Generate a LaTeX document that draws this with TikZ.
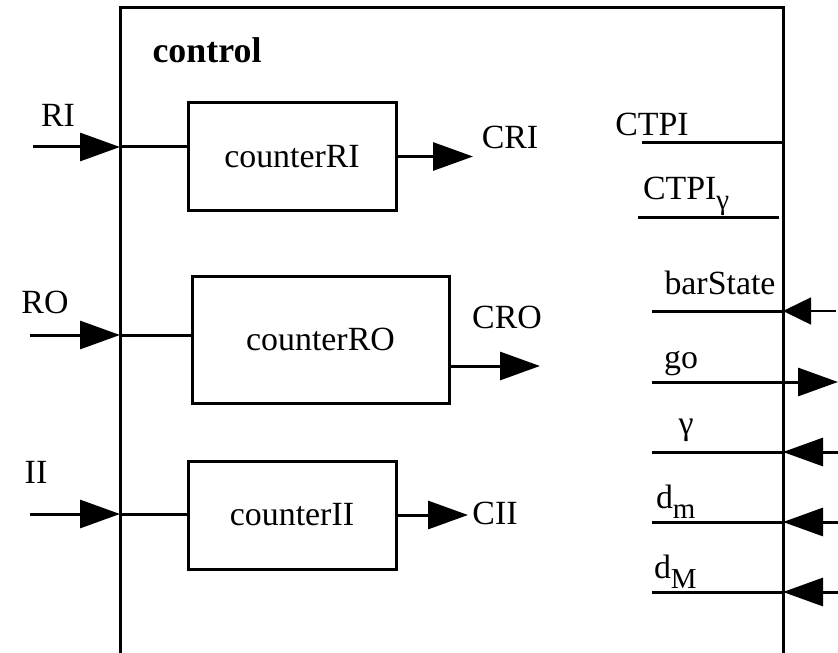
\documentclass[tikz,border=0pt]{standalone}
\usepackage{fontspec}
\setmainfont{Liberation Serif}
\usetikzlibrary{arrows.meta}
\newcommand\lowsub[1]{\raisebox{-0.32em}{\fontsize{29}{31}\selectfont #1}}
\begin{document}
\begin{tikzpicture}[x=1bp,y=-1bp,line width=3bp,
  every node/.style={font=\fontsize{34}{37}\selectfont, inner sep=0pt, outer sep=0pt},
  blk/.style={draw, line width=3bp, inner sep=0pt},
  tip/.style={-{Triangle[length=40bp,width=28bp]}},
  smalltip/.style={-{Triangle[length=28bp,width=27bp]}}]
\useasboundingbox (0,0) rectangle (838,653);
% frame
\coordinate (fTL) at (120,8);
\coordinate (fTR) at (783,8);
\coordinate (fBL) at (120,655);
\coordinate (fBR) at (783,655);
\draw (fBL) -- (fTL) -- (fTR) -- (fBR);
\node[font=\fontsize{36}{38}\selectfont\bfseries] (ctl) at (207,50) {control};
% blocks
\node[blk, minimum width=208bp, minimum height=107bp] (cRI) at (292,156.5) {counterRI};
\node[blk, minimum width=257bp, minimum height=127bp] (cRO) at (320.5,339.5) {counterRO};
\node[blk, minimum width=208bp, minimum height=108bp] (cII) at (292,515) {counterII};
% left inputs
\coordinate (iRI) at (33,147);  \coordinate (jRI) at (120,147);
\coordinate (iRO) at (30,335);  \coordinate (jRO) at (120,335);
\coordinate (iII) at (30,514);  \coordinate (jII) at (120,514);
\draw[tip] (iRI) -- (jRI);
\draw (jRI) -- (jRI -| cRI.west);
\draw[tip] (iRO) -- (jRO);
\draw (jRO) -- (jRO -| cRO.west);
\draw[tip] (iII) -- (jII);
\draw (jII) -- (jII -| cII.west);
\node (lRI) at (58,115) {RI};
\node (lRO) at (45,302) {RO};
\node (lII) at (36,472) {II};
% outputs
\coordinate (oRI) at (473,156.5);
\coordinate (oRO) at (540,366);
\coordinate (oII) at (468,515);
\draw[tip] (cRI.east) -- (oRI);
\draw[tip] (cRO.east |- oRO) -- (oRO);
\draw[tip] (cII.east) -- (oII);
\node (lCRI) at (510,137) {CRI};
\node (lCRO) at (507,317) {CRO};
\node (lCII) at (495,513) {CII};
% right side
\coordinate (aCT) at (642,143);  \coordinate (bCT) at (783,143);
\coordinate (aCG) at (638,217);  \coordinate (bCG) at (779,217);
\draw (aCT) -- (bCT);
\draw (aCG) -- (bCG);
\node (lCT) at (652,124) {CTPI};
\node[anchor=base west] (lCG) at (643,199) {CTPI\lowsub{γ}};
% barState
\coordinate (aBS) at (652,311); \coordinate (bBS) at (783,311); \coordinate (cBS) at (836,311);
\draw (aBS) -- (bBS);
\draw[smalltip, line width=1.5bp] (cBS) -- (bBS);
\node (lBS) at (720,283) {barState};
% go
\coordinate (aGO) at (652,382); \coordinate (cGO) at (838,382);
\draw[tip] (aGO) -- (cGO);
\node (lGO) at (681,363) {go};
% gamma
\coordinate (aGA) at (652,452); \coordinate (bGA) at (783,452); \coordinate (cGA) at (838,452);
\draw (aGA) -- (bGA);
\draw[tip] (cGA) -- (bGA);
\node (lGA) at (686,430) {γ};
% dm
\coordinate (aDm) at (652,522); \coordinate (bDm) at (783,522); \coordinate (cDm) at (838,522);
\draw (aDm) -- (bDm);
\draw[tip] (cDm) -- (bDm);
\node[anchor=base west] (lDm) at (656,508) {d\lowsub{m}};
% dM
\coordinate (aDM) at (652,592); \coordinate (bDM) at (783,592); \coordinate (cDM) at (838,592);
\draw (aDM) -- (bDM);
\draw[tip] (cDM) -- (bDM);
\node[anchor=base west] (lDM) at (654,578) {d\lowsub{M}};
\end{tikzpicture}
\end{document}
